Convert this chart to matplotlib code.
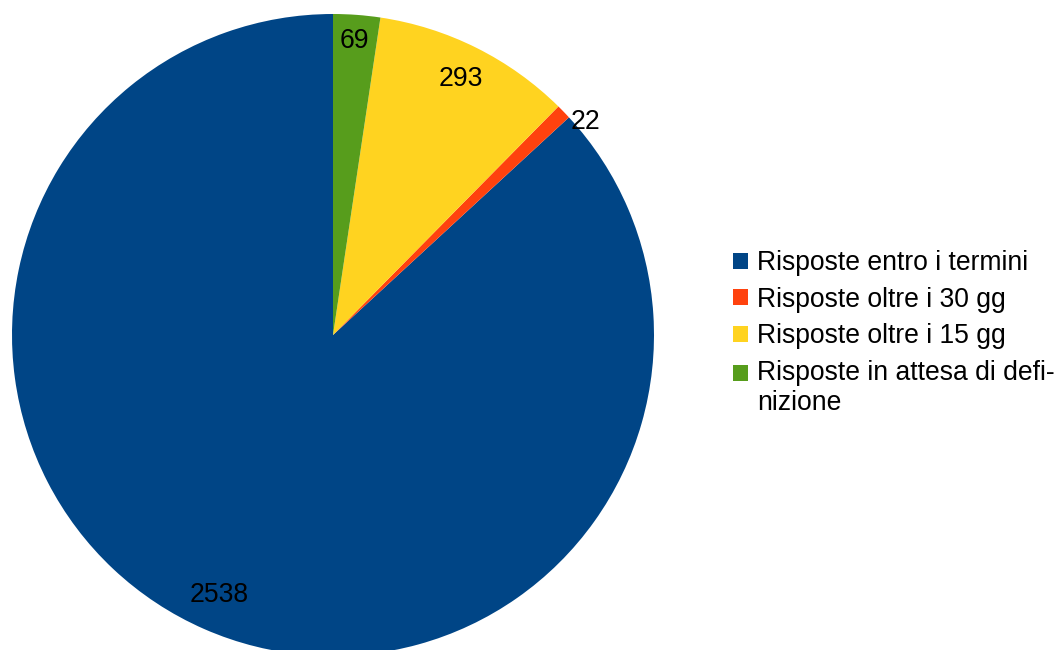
import numpy as np
import matplotlib
matplotlib.use("Agg")
import matplotlib.pyplot as plt
from matplotlib.patches import Patch, Rectangle
from matplotlib.legend_handler import HandlerPatch

categories = ["Risposte entro i termini", "Risposte oltre i 30 gg",
              "Risposte oltre i 15 gg", "Risposte in attesa di defi-\nnizione"]
values = [2538, 22, 293, 69]
colors = ["#004586", "#ff420e", "#ffd320", "#579d1c"]

plt.rcParams['font.family'] = ['Liberation Sans', 'DejaVu Sans']
FS = 19.1
FS_PX = FS * 100 / 72

W, H = 1059, 650
fig = plt.figure(figsize=(W / 100, H / 100), dpi=100)
cx, cy, R = 333, 335, 321
ax = fig.add_axes([(cx - R) / W, (H - cy - R) / H, 2 * R / W, 2 * R / H])
wedges, _ = ax.pie(values, colors=colors, startangle=90, counterclock=True,
                   radius=1.0, wedgeprops=dict(linewidth=0))
ax.set_xlim(-1, 1)
ax.set_ylim(-1, 1)
ax.axis('off')

renderer = fig.canvas.get_renderer()
total = sum(values)
for w, v in zip(wedges, values):
    mid = np.deg2rad((w.theta1 + w.theta2) / 2)
    if v / total < 0.02:
        r = 1.03
        ax.annotate(str(v), (r * np.cos(mid), r * np.sin(mid)),
                    xytext=(0, -2.5), textcoords='offset points',
                    ha='left', va='top', fontsize=FS, color='black')
    else:
        t = ax.text(0, 0, str(v), ha='center', va='center', fontsize=FS,
                    color='black')
        bb = t.get_window_extent(renderer)
        hw = bb.width / 2
        hh = 0.36 * FS_PX
        proj = hw * abs(np.cos(mid)) + hh * abs(np.sin(mid))
        r = (0.95 * R - proj) / R
        t.set_position((r * np.cos(mid), r * np.sin(mid)))


class TopLineHandler(HandlerPatch):
    """Align the square with the first line of a multi-line label."""
    def __init__(self, nlines, **kw):
        super().__init__(**kw)
        self.nlines = nlines

    def create_artists(self, legend, orig_handle, xdescent, ydescent,
                       width, height, fontsize, trans):
        shift = (self.nlines - 1) * fontsize * 1.15 / 2
        p = Rectangle((-xdescent, -ydescent + shift), width, height,
                      facecolor=orig_handle.get_facecolor(), edgecolor='none',
                      transform=trans)
        return [p]


handles = [Patch(facecolor=c, edgecolor='none') for c in colors]
handler_map = {h: TopLineHandler(lab.count("\n") + 1)
               for h, lab in zip(handles, categories)}
fig.legend(handles, categories, loc='upper left',
           bbox_to_anchor=(733 / W, 1 - 250 / H), frameon=False,
           fontsize=FS, borderpad=0, borderaxespad=0,
           handlelength=0.56, handleheight=0.56, handletextpad=0.34,
           labelspacing=0.4, handler_map=handler_map)

fig.savefig("out.png", dpi=100)
